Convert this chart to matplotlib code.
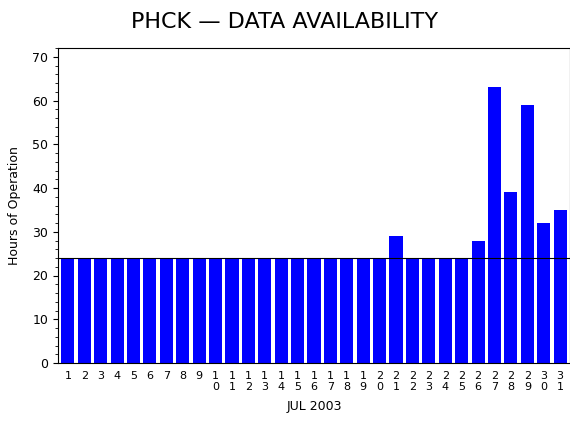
import numpy as np
import matplotlib.pyplot as plt
from matplotlib.ticker import MultipleLocator

days = list(range(1, 32))
hours = [24] * 20 + [29, 24, 24, 24, 24, 28, 63, 39, 59, 32, 35]
day_labels = ["\n".join(str(d)) for d in days]

fig = plt.figure(figsize=(5.7, 4.3), dpi=100)
ax = fig.add_axes([58 / 570, 67 / 430, 512 / 570, 315 / 430])

ax.bar(days, hours, width=0.8, color="#0000ff")
ax.axhline(24, color="black", linewidth=0.8)

ax.set_xlim(0.4, 31.6)
ax.set_ylim(0, 72)
ax.set_xticks(days)
ax.set_xticklabels(day_labels, fontsize=8, linespacing=1.1)
ax.tick_params(axis="x", length=0, pad=6)
ax.yaxis.set_major_locator(MultipleLocator(10))
ax.yaxis.set_minor_locator(MultipleLocator(2))
ax.tick_params(axis="y", labelsize=9)
ax.set_ylabel("Hours of Operation", fontsize=9, labelpad=8)
ax.set_xlabel("JUL 2003", fontsize=9, labelpad=6)
fig.text(0.5, 0.95, "PHCK \u2014 DATA AVAILABILITY", ha="center", va="center", fontsize=16)

fig.savefig("out.png", dpi=100)
